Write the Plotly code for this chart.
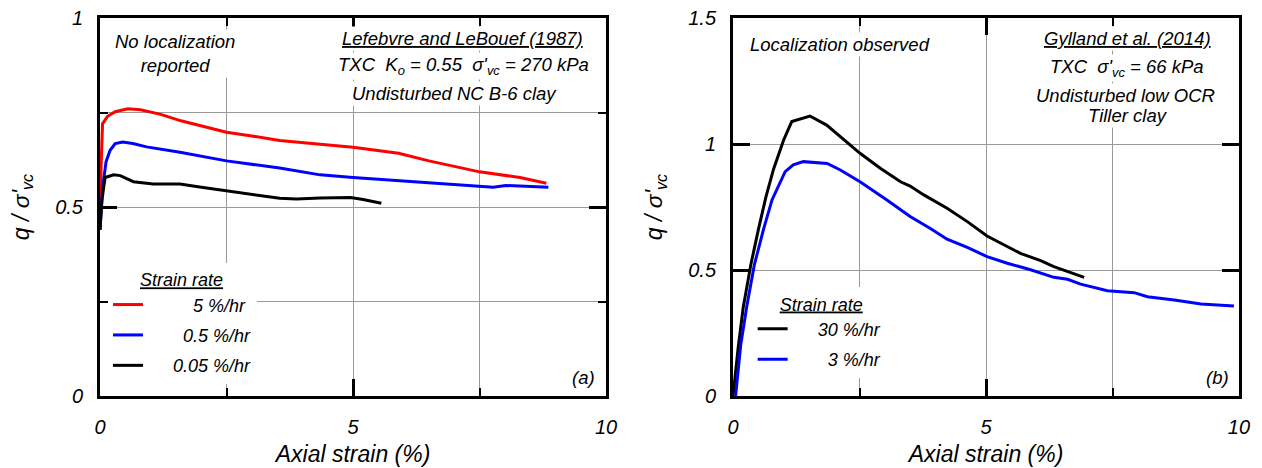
import plotly.graph_objects as go

# ---------------- data ----------------
# Panel (a): Lefebvre and LeBouef (1987)
a_red_x = [0, 0.02, 0.05, 0.15, 0.3, 0.55, 0.8, 1.2, 1.6, 2.0, 2.5, 3.0, 3.55, 4.35, 5.0, 5.9, 6.5, 7.5, 8.3, 8.82]
a_red_y = [0.44, 0.60, 0.72, 0.74, 0.752, 0.76, 0.757, 0.745, 0.728, 0.715, 0.698, 0.688, 0.676, 0.666, 0.658, 0.642, 0.622, 0.593, 0.578, 0.563]

a_blue_x = [0, 0.05, 0.12, 0.2, 0.3, 0.45, 0.65, 0.92, 1.58, 2.5, 3.55, 4.35, 5.0, 6.3, 7.5, 7.77, 8.02, 8.55, 8.86]
a_blue_y = [0.44, 0.55, 0.62, 0.65, 0.668, 0.672, 0.668, 0.659, 0.645, 0.622, 0.603, 0.585, 0.578, 0.565, 0.555, 0.552, 0.557, 0.555, 0.552]

a_black_x = [0, 0.04, 0.1, 0.27, 0.4, 0.66, 1.05, 1.58, 1.97, 2.5, 3.03, 3.55, 3.88, 4.35, 4.95, 5.2, 5.56]
a_black_y = [0.44, 0.52, 0.578, 0.585, 0.583, 0.567, 0.561, 0.561, 0.553, 0.543, 0.534, 0.523, 0.521, 0.524, 0.525, 0.52, 0.51]

# Panel (b): Gylland et al. (2014)
b_black_x = [0, 0.1, 0.2, 0.35, 0.5, 0.65, 0.8, 1.0, 1.16, 1.52, 1.85, 2.12, 2.38, 2.51, 2.91, 3.31, 3.5, 3.77,
             4.23, 4.63, 5.02, 5.35, 5.68, 6.08, 6.34, 6.94]
b_black_y = [0, 0.19, 0.35, 0.52, 0.66, 0.79, 0.9, 1.016, 1.089, 1.111, 1.075, 1.029, 0.983, 0.963, 0.904, 0.85, 0.833, 0.798,
             0.745, 0.692, 0.635, 0.599, 0.566, 0.537, 0.513, 0.471]

b_blue_x = [0.05, 0.15, 0.27, 0.42, 0.6, 0.77, 1.03, 1.19, 1.39, 1.86, 2.12, 2.51, 3.04, 3.5, 3.9, 4.23, 4.63, 5.02,
            5.42, 5.68, 5.88, 6.34, 6.61, 6.87, 7.4, 7.93, 8.19, 8.72, 9.25, 9.9]
b_blue_y = [0, 0.2, 0.354, 0.52, 0.66, 0.778, 0.89, 0.917, 0.93, 0.923, 0.897, 0.85, 0.778, 0.712, 0.665, 0.622, 0.59, 0.553,
            0.527, 0.513, 0.501, 0.471, 0.463, 0.444, 0.418, 0.41, 0.394, 0.381, 0.365, 0.357]

a_labels = ["5 %/hr", "0.5 %/hr", "0.05 %/hr"]
b_labels = ["30 %/hr", "3 %/hr"]

NB = "\u00a0"

def pad(label, n):
    return NB * n + label

fig = go.Figure()

LW = 3
fig.add_trace(go.Scatter(x=a_red_x, y=a_red_y, mode="lines", line=dict(color="#ff0000", width=LW),
                         name=pad(a_labels[0], 9), xaxis="x", yaxis="y", legend="legend", legendgroup="a1"))
fig.add_trace(go.Scatter(x=a_blue_x, y=a_blue_y, mode="lines", line=dict(color="#0000ff", width=LW),
                         name=pad(a_labels[1], 7), xaxis="x", yaxis="y", legend="legend", legendgroup="a2"))
fig.add_trace(go.Scatter(x=a_black_x, y=a_black_y, mode="lines", line=dict(color="#000000", width=LW),
                         name=pad(a_labels[2], 5), xaxis="x", yaxis="y", legend="legend", legendgroup="a3"))

fig.add_trace(go.Scatter(x=b_black_x, y=b_black_y, mode="lines", line=dict(color="#000000", width=LW),
                         name=pad(b_labels[0], 5), xaxis="x2", yaxis="y2", legend="legend2", legendgroup="b1"))
fig.add_trace(go.Scatter(x=b_blue_x, y=b_blue_y, mode="lines", line=dict(color="#0000ff", width=LW),
                         name=pad(b_labels[1], 7), xaxis="x2", yaxis="y2", legend="legend2", legendgroup="b2"))

GRID = "#9a9a9a"

def xaxis_common(domain, anchor):
    return dict(domain=domain, anchor=anchor, range=[0, 10], tick0=0, dtick=5, automargin=False,
                showline=True, linewidth=3, linecolor="black", mirror="ticks",
                ticks="inside", ticklen=17, tickwidth=3, tickcolor="black",
                showgrid=True, gridcolor=GRID, gridwidth=1, zeroline=False,
                minor=dict(dtick=2.5, ticks="inside", ticklen=8, tickwidth=2, tickcolor="black",
                           showgrid=True, gridcolor=GRID, gridwidth=1),
                tickfont=dict(size=20), ticklabelstandoff=11,
                title=dict(text="Axial strain (%)", font=dict(size=23), standoff=9))

def yaxis_common(anchor, rng, minor):
    d = dict(domain=[0, 1], anchor=anchor, range=rng, tick0=0, dtick=0.5, automargin=False,
             showline=True, linewidth=3, linecolor="black", mirror="ticks",
             ticks="inside", ticklen=17, tickwidth=3, tickcolor="black",
             showgrid=True, gridcolor=GRID, gridwidth=1, zeroline=False,
             tickfont=dict(size=20), ticklabelstandoff=10,
             title=dict(text="q / σ'<sub>vc</sub>", font=dict(size=23), standoff=20))
    if minor:
        d["minor"] = dict(dtick=0.25, ticks="inside", ticklen=8, tickwidth=2, tickcolor="black",
                          showgrid=True, gridcolor=GRID, gridwidth=1)
    return d

legend_common = dict(xref="paper", yref="paper", xanchor="left", yanchor="top",
                     bgcolor="white", borderwidth=0, font=dict(size=18),
                     traceorder="grouped", tracegroupgap=4, itemwidth=30)

fig.update_layout(
    width=1262, height=468,
    margin=dict(l=100, r=23, t=18, b=72, autoexpand=False),
    paper_bgcolor="white", plot_bgcolor="white",
    font=dict(family="Liberation Sans, Arial, sans-serif", style="italic", color="black", size=18),
    xaxis=xaxis_common([0, 0.4443], "y"),
    yaxis=yaxis_common("x", [0, 1], True),
    xaxis2=xaxis_common([0.5558, 1.0], "y2"),
    yaxis2=yaxis_common("x2", [0, 1.5], False),
    legend=dict(x=0.007, y=0.352, title=dict(text=NB * 6 + "<u>Strain rate</u>", font=dict(size=18)),
                **legend_common),
    legend2=dict(x=0.573, y=0.288, title=dict(text=NB * 5 + "<u>Strain rate</u>", font=dict(size=18)),
                 **legend_common),
    showlegend=True,
)

def note(text, x, y, xr, yr, xanchor="center", size=18.5):
    fig.add_annotation(text=text, x=x, y=y, xref=xr, yref=yr, xanchor=xanchor, yanchor="middle",
                       showarrow=False, bgcolor="white", borderpad=1, font=dict(size=size), align="center")

# panel (a) notes
note("No localization<br>reported", 0.148, 0.905, "x domain", "y domain")
note("<u>Lefebvre and LeBouef (1987)</u>", 0.717, 0.947, "x domain", "y domain")
note("TXC" + NB * 2 + "K<sub>o</sub> = 0.55" + NB * 2 + "σ'<sub>vc</sub> = 270 kPa", 0.718, 0.872, "x domain", "y domain")
note("Undisturbed NC B-6 clay", 0.700, 0.800, "x domain", "y domain")
note("(a)", 0.955, 0.048, "x domain", "y domain")

# panel (b) notes
note("Localization observed", 0.211, 0.930, "x2 domain", "y2 domain")
note("<u>Gylland et al. (2014)</u>", 0.780, 0.947, "x2 domain", "y2 domain")
note("TXC" + NB * 2 + "σ'<sub>vc</sub> = 66 kPa", 0.779, 0.868, "x2 domain", "y2 domain")
note("Undisturbed low OCR", 0.775, 0.795, "x2 domain", "y2 domain")
note("Tiller clay", 0.780, 0.742, "x2 domain", "y2 domain")
note("(b)", 0.958, 0.048, "x2 domain", "y2 domain")

fig.write_html("out.html")
